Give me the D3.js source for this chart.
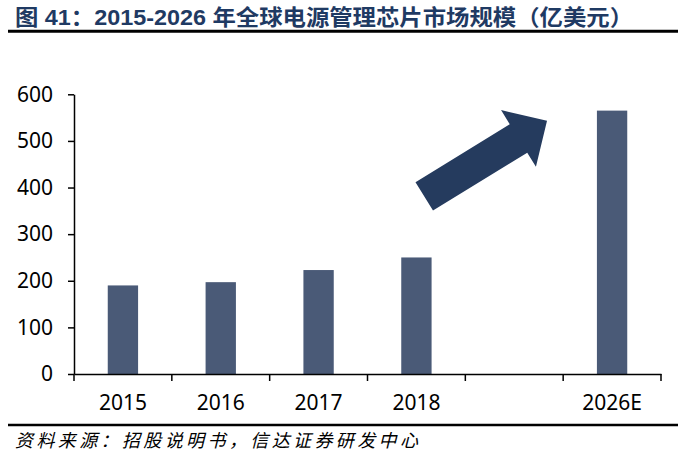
<!DOCTYPE html>
<html>
<head>
<meta charset="utf-8">
<script src="https://cdn.jsdelivr.net/npm/d3@7"></script>
<style>
  body { margin: 0; background: #fff; }
  svg { display: block; }
</style>
</head>
<body>
<svg></svg>
<script>
const categories = ['2015', '2016', '2017', '2018', ' ', '2026E'];
const values = [190, 197, 223, 250, null, 565];
const yTicks = [0, 100, 200, 300, 400, 500, 600];
// arrow annotation: [band position, value]
const arrowFrom = [3.58, 381];
const arrowTo = [4.835, 543];

const titleText = '图 41：2015-2026 年全球电源管理芯片市场规模（亿美元）';
const sourceText = '资料来源：招股说明书，信达证券研发中心';

const svgWidth = 684;
const svgHeight = 460;
const plot = { left: 74, right: 661, top: 94.3, bottom: 374 };

const svg = d3.select('svg')
    .attr('width', svgWidth)
    .attr('height', svgHeight);

const numFont = '"Noto Sans", "Liberation Sans", Arial, sans-serif';
const cjkFont = '"Noto Sans CJK SC", "Noto Sans", sans-serif';

// title + rules
svg.append('text')
    .attr('x', 15)
    .attr('y', 25)
    .attr('font-family', '"Liberation Sans", Arial, "Noto Sans CJK SC", sans-serif')
    .attr('font-weight', 'bold')
    .attr('font-size', '22px')
    .attr('fill', '#1f3a63')
    .attr('textLength', 618)
    .attr('lengthAdjust', 'spacingAndGlyphs')
    .text(titleText);

svg.append('line')
    .attr('x1', 8).attr('x2', 678)
    .attr('y1', 31.3).attr('y2', 31.3)
    .attr('stroke', '#000')
    .attr('stroke-width', 3);

svg.append('line')
    .attr('x1', 8).attr('x2', 678)
    .attr('y1', 425).attr('y2', 425)
    .attr('stroke', '#000')
    .attr('stroke-width', 2.5);

svg.append('text')
    .attr('x', 15)
    .attr('y', 447)
    .attr('font-family', cjkFont)
    .attr('font-style', 'italic')
    .attr('font-size', '18px')
    .attr('fill', '#000')
    .attr('textLength', 403)
    .attr('lengthAdjust', 'spacing')
    .text(sourceText);

// scales
const xScale = d3.scaleBand()
    .domain(categories)
    .range([plot.left, plot.right])
    .padding(0);

const yScale = d3.scaleLinear()
    .domain([0, 600])
    .range([plot.bottom, plot.top]);

const barWidth = xScale.bandwidth() * 0.31;

// bars
svg.selectAll('.bar')
    .data(categories.map((c, i) => ({ cat: c, value: values[i] })).filter(d => d.value != null))
    .enter().append('rect')
    .attr('class', 'bar')
    .attr('x', d => xScale(d.cat) + (xScale.bandwidth() - barWidth) / 2)
    .attr('y', d => yScale(d.value))
    .attr('width', barWidth)
    .attr('height', d => yScale(0) - yScale(d.value))
    .attr('fill', '#4a5a77');

// y axis
const yAxis = svg.append('g')
    .attr('transform', `translate(${plot.left}, 0)`)
    .call(d3.axisLeft(yScale).tickValues(yTicks).tickSize(6).tickPadding(15).tickSizeOuter(0));
yAxis.select('.domain').attr('stroke', '#000').attr('stroke-width', 1.5);
yAxis.selectAll('.tick line').attr('stroke', '#000').attr('stroke-width', 1.5);
yAxis.selectAll('.tick text')
    .attr('font-family', numFont)
    .attr('font-size', '21px')
    .attr('fill', '#000');

// x axis: labels at band centres, ticks at band edges
const xAxis = svg.append('g')
    .attr('transform', `translate(0, ${plot.bottom})`)
    .call(d3.axisBottom(xScale).tickSize(0).tickPadding(21).tickSizeOuter(0));
xAxis.select('.domain').attr('stroke', '#000').attr('stroke-width', 1.5);
xAxis.selectAll('.tick text')
    .attr('font-family', numFont)
    .attr('font-size', '21px')
    .attr('fill', '#000');

const edges = categories.map(c => xScale(c)).concat(xScale.range()[1]);
xAxis.selectAll('.edge')
    .data(edges)
    .enter().append('line')
    .attr('class', 'edge')
    .attr('x1', d => d).attr('x2', d => d)
    .attr('y1', 0).attr('y2', 7)
    .attr('stroke', '#000')
    .attr('stroke-width', 1.5);

// growth arrow
const bandPos = u => xScale.range()[0] + u * xScale.step();
const p0 = [bandPos(arrowFrom[0]), yScale(arrowFrom[1])];
const p1 = [bandPos(arrowTo[0]), yScale(arrowTo[1])];
const dx = p1[0] - p0[0], dy = p1[1] - p0[1];
const len = Math.hypot(dx, dy);
const ux = dx / len, uy = dy / len;
const nx = -uy, ny = ux;
const shaftHalf = 16.7, headHalf = 33.3, headLen = 33.5;
const pt = (along, across) => [p0[0] + ux * along + nx * across, p0[1] + uy * along + ny * across];
const arrowPts = [
    pt(0, -shaftHalf),
    pt(len - headLen, -shaftHalf),
    pt(len - headLen, -headHalf),
    pt(len, 0),
    pt(len - headLen, headHalf),
    pt(len - headLen, shaftHalf),
    pt(0, shaftHalf)
];
svg.append('polygon')
    .attr('points', arrowPts.map(p => p.join(',')).join(' '))
    .attr('fill', '#253b5e');
</script>
</body>
</html>
